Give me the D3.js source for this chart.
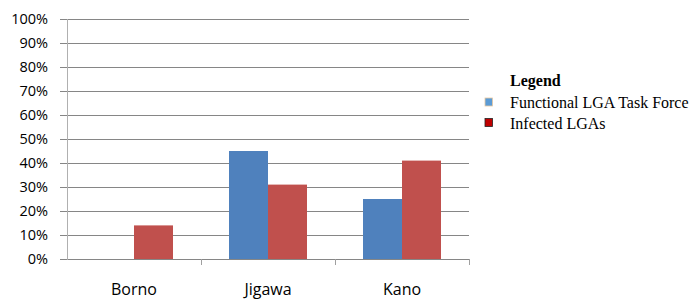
<!DOCTYPE html>
<html>
<head>
<meta charset="utf-8">
<script src="https://cdn.jsdelivr.net/npm/d3@7"></script>
<style>
  body { margin: 0; background: #fff; }
  svg { display: block; }
</style>
</head>
<body>
<div id="chart"></div>
<script>
// data
const states = ["Borno", "Jigawa", "Kano"];
const seriesNames = ["Functional LGA Task Force", "Infected LGAs"];
const functionalTaskForce = [0, 0.45, 0.25];
const infectedLGAs = [0.14, 0.31, 0.41];
const yTicks = [0, 0.1, 0.2, 0.3, 0.4, 0.5, 0.6, 0.7, 0.8, 0.9, 1.0];
const colors = ["#4F81BD", "#C0504D"];
const legendColors = ["#5B9BD5", "#C00000"];

const data = states.map((s, i) => ({ state: s, values: [functionalTaskForce[i], infectedLGAs[i]] }));

const W = 700, H = 301;
const margin = { top: 19, right: 231, bottom: 42, left: 67 };
const width = W - margin.left - margin.right;
const height = H - margin.top - margin.bottom;

const svg = d3.select("#chart")
    .append("svg")
    .attr("width", W)
    .attr("height", H);

const g = svg.append("g")
    .attr("transform", "translate(" + margin.left + "," + margin.top + ")");

const x0 = d3.scaleBand()
    .domain(states)
    .range([0, width])
    .paddingInner(0.418)
    .paddingOuter(0.209);

const x1 = d3.scaleBand()
    .domain([0, 1])
    .range([0, x0.bandwidth()]);

const y = d3.scaleLinear()
    .domain([0, 1])
    .range([height, 0]);

// gridlines
g.append("g")
    .selectAll("line")
    .data(yTicks)
    .enter()
    .append("line")
    .attr("x1", -7)
    .attr("x2", width)
    .attr("y1", d => Math.round(y(d)) + 0.5)
    .attr("y2", d => Math.round(y(d)) + 0.5)
    .attr("stroke", "#868686")
    .attr("stroke-width", 1);

// y labels
g.append("g")
    .selectAll("text")
    .data(yTicks)
    .enter()
    .append("text")
    .attr("x", -19)
    .attr("y", d => y(d))
    .attr("dy", "0.35em")
    .attr("text-anchor", "end")
    .style("font-family", "'Open Sans', 'Liberation Sans', sans-serif")
    .style("font-size", "14.5px")
    .style("fill", "#000")
    .text(d => d3.format(".0%")(d));

// vertical axis line
g.append("line")
    .attr("x1", 0.5).attr("x2", 0.5)
    .attr("y1", 0).attr("y2", height + 1)
    .attr("stroke", "#b0b0b0")
    .attr("stroke-width", 1);

// category tick marks
const stepX = width / states.length;
g.append("g")
    .selectAll("line")
    .data(states)
    .enter()
    .append("line")
    .attr("x1", (d, i) => Math.round(stepX * (i + 1)) + 0.5)
    .attr("x2", (d, i) => Math.round(stepX * (i + 1)) + 0.5)
    .attr("y1", height)
    .attr("y2", height + 6)
    .attr("stroke", "#a0a0a0");

// bars
const groups = g.selectAll(".grp")
    .data(data)
    .enter()
    .append("g")
    .attr("class", "grp")
    .attr("transform", d => "translate(" + x0(d.state) + ",0)");

groups.selectAll("rect")
    .data(d => d.values.map((v, i) => ({ i, v })))
    .enter()
    .append("rect")
    .attr("x", d => x1(d.i))
    .attr("y", d => y(d.v))
    .attr("width", x1.bandwidth())
    .attr("height", d => height - y(d.v))
    .attr("fill", d => colors[d.i]);

// category labels
g.append("g")
    .selectAll("text")
    .data(states)
    .enter()
    .append("text")
    .attr("x", d => x0(d) + x0.bandwidth() / 2)
    .attr("y", height + 30)
    .attr("dy", "0.35em")
    .attr("text-anchor", "middle")
    .style("font-family", "'Open Sans', 'Liberation Sans', sans-serif")
    .style("font-size", "16px")
    .style("fill", "#000")
    .text(d => d);

// legend
const legend = svg.append("g")
    .attr("transform", "translate(485,0)");

legend.append("text")
    .attr("x", 25)
    .attr("y", 86)
    .style("font-family", "'Liberation Serif', 'Times New Roman', serif")
    .style("font-size", "16px")
    .style("font-weight", "bold")
    .text("Legend");

const items = legend.selectAll(".item")
    .data(seriesNames)
    .enter()
    .append("g")
    .attr("class", "item")
    .attr("transform", (d, i) => "translate(0," + (98 + i * 20.5) + ")");

items.append("rect")
    .attr("width", 7.5)
    .attr("height", 8)
    .attr("fill", (d, i) => legendColors[i])
    .attr("stroke", (d, i) => i === 0 ? "#e8c8a0" : "#222")
    .attr("stroke-width", 0.8);

items.append("text")
    .attr("x", 25)
    .attr("y", 10)
    .style("font-family", "'Liberation Serif', 'Times New Roman', serif")
    .style("font-size", "16px")
    .text(d => d);
</script>
</body>
</html>
